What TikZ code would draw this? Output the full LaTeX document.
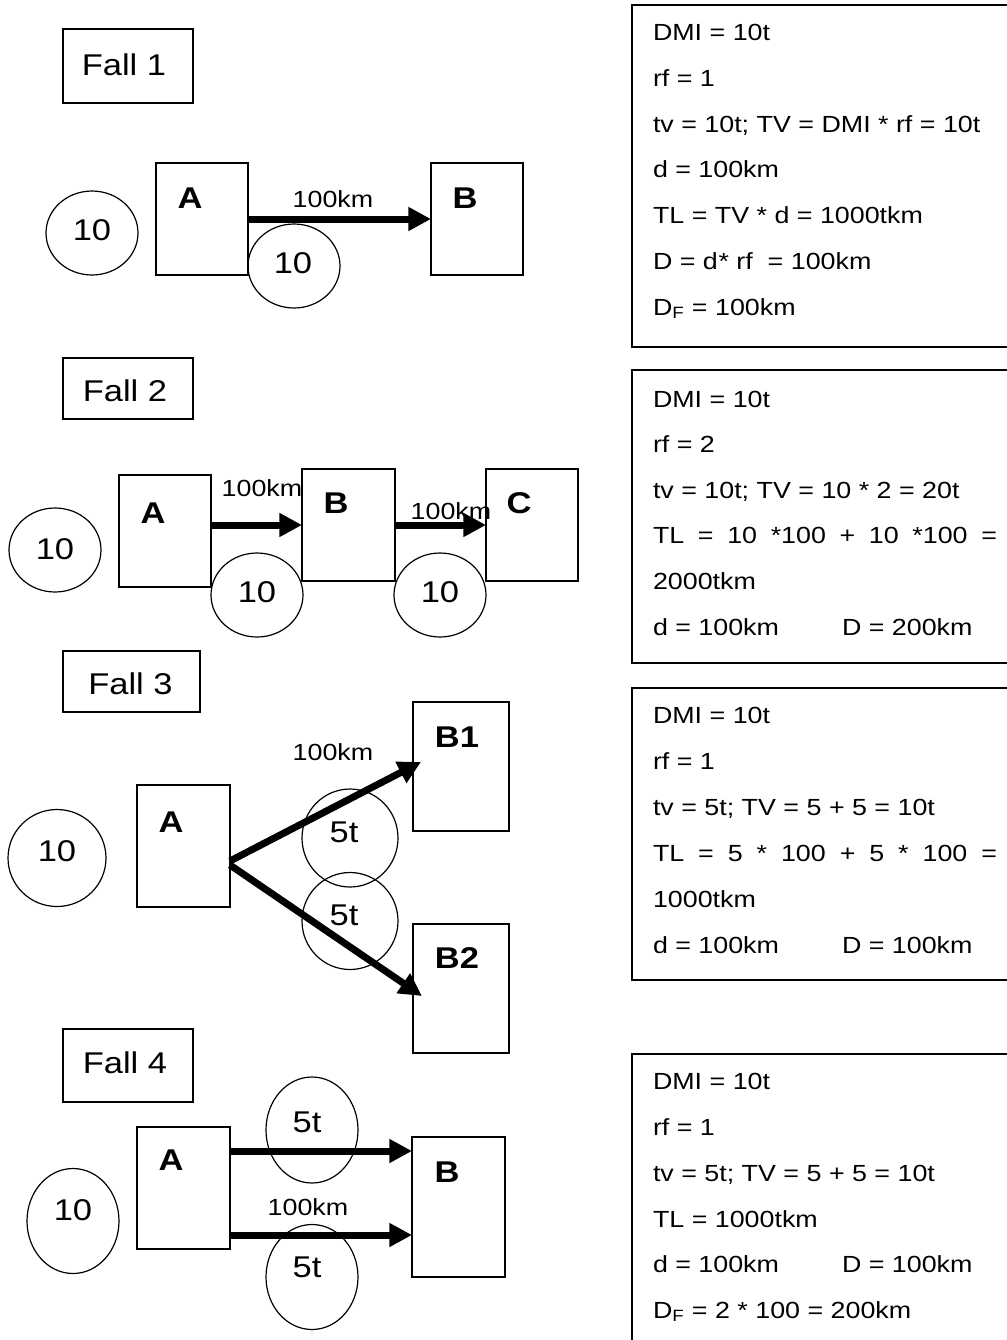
\documentclass[tikz,border=0pt]{standalone}
\usepackage{fontspec}
\setmainfont{Liberation Sans}[FakeStretch=1.15]
\usetikzlibrary{shapes.geometric,arrows.meta,calc}
\newdimen\px \px=0.75pt
\newcommand\ftxt{\fontsize{17.5pt}{21pt}\selectfont}
\newcommand\fbig{\fontsize{22.5pt}{26pt}\selectfont}
\newcommand\ffall{\fontsize{22.5pt}{27pt}\selectfont}
\begin{document}
\begin{tikzpicture}[x=0.75pt,y=-0.75pt,
  every node/.style={inner sep=0pt, outer sep=0pt},
  frame/.style={draw, line width=0.9pt, rectangle},
  falltxt/.style={font=\ffall},
  oval/.style={draw, line width=0.9pt, ellipse},
  num/.style={font=\fbig},
  letter/.style={font=\fbig\bfseries},
  lbl/.style={font=\ftxt},
  line/.style={font=\ftxt, anchor=base west},
  flow/.style={line width=5.25pt, -{Triangle[length=17pt,width=17pt]}},
]
\useasboundingbox (0,0) rectangle (1007,1340);
\clip (0,0) rectangle (1007,1340);

% ---------- Fall 1
\node[frame, minimum width=130\px, minimum height=74\px] (f1) at (128,66) {};
\node[falltxt] (f1t) at (124,65) {Fall 1};
\node[oval, minimum width=92\px, minimum height=84\px] (f1c) at (92,233) {};
\node[num] (f1ct) at (92,230) {10};
\node[frame, minimum width=92\px, minimum height=112\px] (f1A) at (202,219) {};
\node[letter] (f1At) at (190,198) {A};
\node[frame, minimum width=92\px, minimum height=112\px] (f1B) at (477,219) {};
\node[letter] (f1Bt) at (465,198) {B};
\node[oval, minimum width=92\px, minimum height=84\px] (f1m) at (294,266) {};
\node[num] (f1mt) at (293,263) {10};
\draw[flow] (f1A.east) -- (f1B.west);
\node[lbl] (f1d) at (333,199) {100km};

% ---------- Fall 2
\node[frame, minimum width=130\px, minimum height=61\px] (f2) at (128,388.5) {};
\node[falltxt] (f2t) at (125,391) {Fall 2};
\node[oval, minimum width=92\px, minimum height=84\px] (f2c) at (55,550) {};
\node[num] (f2ct) at (55,549) {10};
\node[frame, minimum width=92\px, minimum height=112\px] (f2A) at (165,531) {};
\node[letter] (f2At) at (153,513) {A};
\node[frame, minimum width=93\px, minimum height=112\px] (f2B) at (348.5,525) {};
\node[letter] (f2Bt) at (336,503) {B};
\node[frame, minimum width=92\px, minimum height=112\px] (f2C) at (532,525) {};
\node[letter] (f2Ct) at (519,503) {C};
\node[oval, minimum width=92\px, minimum height=84\px] (f2m1) at (257,595) {};
\node[num] (f2m1t) at (257,592) {10};
\node[oval, minimum width=92\px, minimum height=84\px] (f2m2) at (440,595) {};
\node[num] (f2m2t) at (440,592) {10};
\draw[flow] (f2A.east |- f2B.west) -- (f2B.west);
\draw[flow] (f2B.east) -- (f2C.west);
\node[lbl] (f2d1) at (262,488) {100km};
\node[lbl] (f2d2) at (451,511) {100km};

% ---------- Fall 3
\node[frame, minimum width=137\px, minimum height=61\px] (f3) at (131.5,681.5) {};
\node[falltxt] (f3t) at (130.5,684) {Fall 3};
\node[oval, minimum width=98\px, minimum height=97\px] (f3c) at (57,858) {};
\node[num] (f3ct) at (57,851) {10};
\node[frame, minimum width=93\px, minimum height=122\px] (f3A) at (183.5,846) {};
\node[letter] (f3At) at (171,822) {A};
\node[frame, minimum width=96\px, minimum height=129\px] (f3B1) at (461,766.5) {};
\node[letter] (f3B1t) at (457,737) {B1};
\node[frame, minimum width=96\px, minimum height=129\px] (f3B2) at (461,988.5) {};
\node[letter] (f3B2t) at (457,958) {B2};
\node[oval, minimum width=96\px, minimum height=98\px] (f3m1) at (350,838) {};
\node[num] (f3m1t) at (344,832) {5t};
\node[oval, minimum width=96\px, minimum height=97\px] (f3m2) at (350,921) {};
\node[num] (f3m2t) at (344,915) {5t};
\draw[flow] ($(f3A.east)+(0,15)$) -- ($(f3B1.west)+(8,-4.5)$);
\draw[flow] ($(f3A.east)+(0,19)$) -- ($(f3B2.west)+(9,7.5)$);
\node[lbl] (f3d) at (333,752) {100km};

% ---------- Fall 4
\node[frame, minimum width=130\px, minimum height=73\px] (f4) at (128,1065.5) {};
\node[falltxt] (f4t) at (125,1063) {Fall 4};
\node[oval, minimum width=92\px, minimum height=105\px] (f4c) at (73,1221) {};
\node[num] (f4ct) at (73,1210) {10};
\node[frame, minimum width=93\px, minimum height=122\px] (f4A) at (183.5,1188) {};
\node[letter] (f4At) at (171,1160) {A};
\node[frame, minimum width=93\px, minimum height=140\px] (f4B) at (458.5,1207) {};
\node[letter] (f4Bt) at (447,1172) {B};
\node[oval, minimum width=92\px, minimum height=106\px] (f4m1) at (312,1130) {};
\node[num] (f4m1t) at (307,1122) {5t};
\node[oval, minimum width=92\px, minimum height=105\px] (f4m2) at (312,1277) {};
\node[num] (f4m2t) at (307,1267) {5t};
\draw[flow] ($(f4A.east)+(0,-37)$) -- ($(f4B.west)+(0,-56)$);
\draw[flow] ($(f4A.east)+(0,47)$) -- ($(f4B.west)+(0,28)$);
\node[lbl] (f4d) at (308,1207) {100km};

% ---------- right boxes
\node[frame, minimum width=383\px, minimum height=342\px] (r1) at (823.5,176) {};
\node[line] (r11) at (653,40) {DMI = 10t};
\node[line] (r12) at (653,86) {rf = 1};
\node[line] (r13) at (653,132) {tv = 10t; TV = DMI * rf = 10t};
\node[line] (r14) at (653,177) {d = 100km};
\node[line] (r15) at (653,223) {TL = TV * d = 1000tkm};
\node[line] (r16) at (653,269) {D = d\kern0.5pt* rf \ = 100km};
\node[line] (r17) at (653,315) {D\textsubscript{F} = 100km};

\node[frame, minimum width=383\px, minimum height=293\px] (r2) at (823.5,516.5) {};
\node[line] (r21) at (653,407) {DMI = 10t};
\node[line] (r22) at (653,452) {rf = 2};
\node[line] (r23) at (653,498) {tv = 10t; TV = 10 * 2 = 20t};
\node[line] (r24) at (653,543) {\makebox[258pt][s]{TL = 10 *100 + 10 *100 =}};
\node[line] (r25) at (653,589) {2000tkm};
\node[line] (r26) at (653,635) {d = 100km};
\node[line] (r27) at (842,635) {D = 200km};

\node[frame, minimum width=383\px, minimum height=292\px] (r3) at (823.5,834) {};
\node[line] (r31) at (653,723) {DMI = 10t};
\node[line] (r32) at (653,769) {rf = 1};
\node[line] (r33) at (653,815) {tv = 5t; TV = 5 + 5 = 10t};
\node[line] (r34) at (653,861) {\makebox[258pt][s]{TL = 5 * 100 + 5 * 100 =}};
\node[line] (r35) at (653,907) {1000tkm};
\node[line] (r36) at (653,953) {d = 100km};
\node[line] (r37) at (842,953) {D = 100km};

\node[frame, minimum width=383\px, minimum height=306\px] (r4) at (823.5,1207) {};
\node[line] (r41) at (653,1089) {DMI = 10t};
\node[line] (r42) at (653,1135) {rf = 1};
\node[line] (r43) at (653,1181) {tv = 5t; TV = 5 + 5 = 10t};
\node[line] (r44) at (653,1227) {TL = 1000tkm};
\node[line] (r45) at (653,1272) {d = 100km};
\node[line] (r46) at (842,1272) {D = 100km};
\node[line] (r47) at (653,1318) {D\textsubscript{F} = 2 * 100 = 200km};
\end{tikzpicture}
\end{document}
